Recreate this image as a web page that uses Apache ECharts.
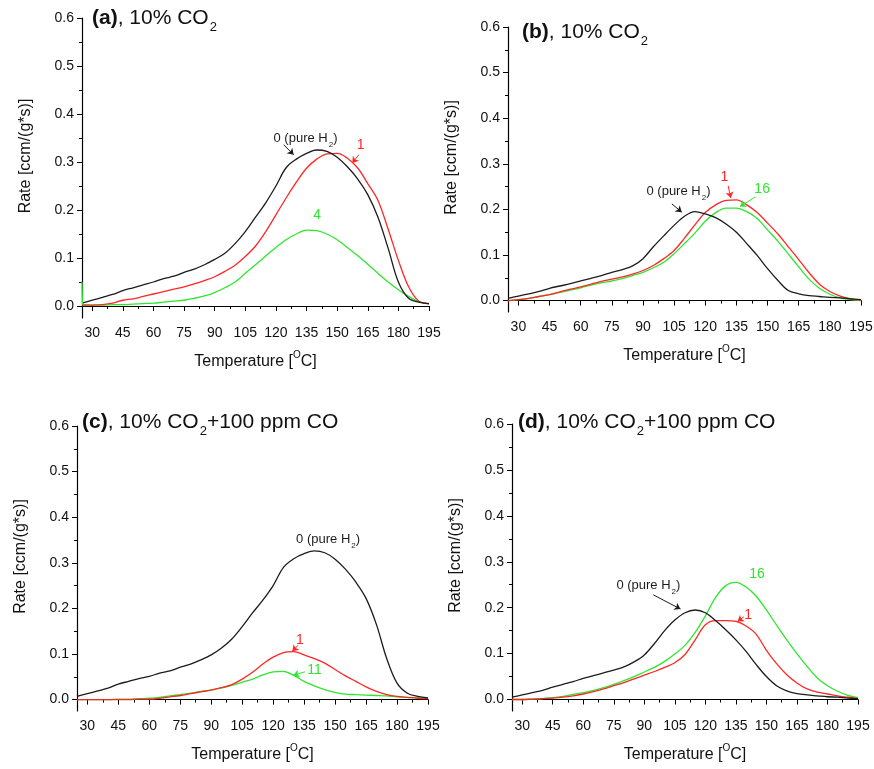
<!DOCTYPE html>
<html lang="en">
<head>
<meta charset="UTF-8">
<title>Rate vs Temperature</title>
<style>
  html, body { margin: 0; padding: 0; background: #fff; }
  #chart { width: 874px; height: 769px; }
</style>
</head>
<body>
<div id="chart"></div>
<script src="https://cdn.jsdelivr.net/npm/echarts@6/dist/echarts.min.js"></script>
<script>
// temperatures (°C) at which the curves were read
var temps = [25, 30, 35, 40, 45, 50, 55, 60, 65, 70, 75, 80, 85, 90, 95, 100, 105, 110, 115,
    120, 125, 130, 135, 140, 145, 150, 155, 160, 165, 170, 175, 180, 185, 190, 195];

// (a) 10% CO2
var aPure = [0.006, 0.012, 0.018, 0.024, 0.032, 0.038, 0.044, 0.050, 0.057, 0.062, 0.070, 0.077, 0.086, 0.097, 0.110, 0.130, 0.155, 0.185, 0.215,
    0.250, 0.288, 0.306, 0.318, 0.325, 0.322, 0.310, 0.290, 0.265, 0.232, 0.185, 0.120, 0.050, 0.016, 0.008, 0.005];
var aOne = [0.002, 0.002, 0.003, 0.006, 0.012, 0.015, 0.020, 0.025, 0.030, 0.035, 0.040, 0.046, 0.053, 0.061, 0.072, 0.085, 0.103, 0.125, 0.155,
    0.190, 0.225, 0.258, 0.287, 0.306, 0.317, 0.318, 0.308, 0.288, 0.255, 0.220, 0.160, 0.095, 0.040, 0.010, 0.005];
var aFour = [0.003, 0.002, 0.002, 0.003, 0.003, 0.004, 0.005, 0.006, 0.008, 0.010, 0.012, 0.016, 0.021, 0.028, 0.038, 0.050, 0.068, 0.086, 0.104,
    0.122, 0.138, 0.150, 0.158, 0.157, 0.150, 0.138, 0.122, 0.105, 0.087, 0.068, 0.050, 0.034, 0.020, 0.009, 0.004];
var aFourSpike = [[25, 0.05], [25.2, 0.003]];

// (b) 10% CO2
var bPure = [0.005, 0.010, 0.015, 0.020, 0.027, 0.032, 0.037, 0.043, 0.049, 0.055, 0.062, 0.068, 0.076, 0.092, 0.118, 0.142, 0.165, 0.185, 0.195,
    0.190, 0.182, 0.168, 0.150, 0.125, 0.099, 0.070, 0.044, 0.022, 0.015, 0.011, 0.009, 0.007, 0.006, 0.004, 0.002];
var bOne = [0.000, 0.002, 0.005, 0.009, 0.013, 0.019, 0.025, 0.030, 0.036, 0.042, 0.047, 0.052, 0.058, 0.066, 0.077, 0.092, 0.110, 0.137, 0.166,
    0.193, 0.210, 0.220, 0.221, 0.210, 0.193, 0.170, 0.146, 0.118, 0.090, 0.061, 0.036, 0.020, 0.010, 0.004, 0.001];
var bSixteen = [0.000, 0.002, 0.005, 0.009, 0.013, 0.018, 0.023, 0.028, 0.034, 0.039, 0.043, 0.048, 0.055, 0.062, 0.072, 0.084, 0.103, 0.125, 0.148,
    0.174, 0.193, 0.203, 0.203, 0.195, 0.180, 0.155, 0.130, 0.102, 0.074, 0.047, 0.027, 0.014, 0.006, 0.002, 0.000];

// (c) 10% CO2 + 100 ppm CO
var cPure = [0.007, 0.013, 0.019, 0.025, 0.034, 0.040, 0.046, 0.051, 0.058, 0.063, 0.071, 0.078, 0.087, 0.098, 0.113, 0.133, 0.160, 0.190, 0.218,
    0.250, 0.290, 0.309, 0.320, 0.326, 0.322, 0.308, 0.286, 0.258, 0.222, 0.165, 0.090, 0.036, 0.014, 0.007, 0.004];
var cOne = [0.000, 0.000, 0.000, 0.000, 0.000, 0.000, 0.001, 0.001, 0.003, 0.006, 0.009, 0.013, 0.017, 0.021, 0.026, 0.033, 0.045, 0.060, 0.078,
    0.093, 0.103, 0.105, 0.098, 0.090, 0.080, 0.066, 0.052, 0.040, 0.028, 0.018, 0.011, 0.007, 0.005, 0.003, 0.002];
var cEleven = [0.000, 0.000, 0.000, 0.000, 0.001, 0.001, 0.002, 0.003, 0.005, 0.008, 0.011, 0.014, 0.018, 0.021, 0.026, 0.031, 0.038, 0.045, 0.054,
    0.061, 0.062, 0.053, 0.040, 0.030, 0.022, 0.016, 0.012, 0.011, 0.010, 0.009, 0.008, 0.006, 0.005, 0.004, 0.003];

// (d) 10% CO2 + 100 ppm CO
var dPure = [0.005, 0.010, 0.015, 0.020, 0.027, 0.033, 0.039, 0.046, 0.052, 0.058, 0.064, 0.071, 0.082, 0.097, 0.122, 0.150, 0.173, 0.189, 0.195,
    0.189, 0.172, 0.152, 0.130, 0.105, 0.076, 0.050, 0.030, 0.019, 0.013, 0.010, 0.008, 0.006, 0.005, 0.003, 0.002];
var dOne = [0.000, 0.000, 0.001, 0.002, 0.003, 0.005, 0.008, 0.012, 0.017, 0.023, 0.030, 0.037, 0.045, 0.053, 0.061, 0.070, 0.080, 0.098, 0.130,
    0.163, 0.172, 0.172, 0.170, 0.160, 0.142, 0.107, 0.078, 0.054, 0.036, 0.023, 0.016, 0.012, 0.008, 0.005, 0.002];
var dSixteen = [0.000, 0.000, 0.001, 0.002, 0.004, 0.007, 0.011, 0.015, 0.020, 0.026, 0.033, 0.041, 0.050, 0.060, 0.070, 0.083, 0.099, 0.118, 0.146,
    0.182, 0.222, 0.248, 0.255, 0.245, 0.225, 0.195, 0.162, 0.130, 0.100, 0.072, 0.047, 0.030, 0.018, 0.009, 0.004];

// axis ticks
var yTicks = [0, 0.1, 0.2, 0.3, 0.4, 0.5, 0.6];
var yMinorTicks = [0.05, 0.15, 0.25, 0.35, 0.45, 0.55];
var xTicks = [30, 45, 60, 75, 90, 105, 120, 135, 150, 165, 180, 195];
var xMinorTicks = [37.5, 52.5, 67.5, 82.5, 97.5, 112.5, 127.5, 142.5, 157.5, 172.5, 187.5];

var BLACK = '#1c1c1c', RED = '#ff2626', GREEN = '#2ee62e', INK = '#111';
var FONT = 'Liberation Sans, Arial, sans-serif';
var PURE = '{n|0 (pure H}{s|2}{n|)}';

var panels = [
    {
        grid: { left: 82, top: 18, width: 347, height: 300 },
        title: '{b|(a)}{n|, 10% CO}{s|2}', titleAt: [92, 8],
        curves: [[aPure, BLACK], [aOne, RED], [aFour, GREEN]],
        notes: [
            { text: PURE, color: BLACK, at: [134.5, 0.347], from: [123.8, 0.336], to: [128.7, 0.315] },
            { text: '1', color: RED, at: [161.5, 0.335], from: [160.6, 0.315], to: [157.4, 0.298] },
            { text: '4', color: GREEN, at: [140.2, 0.19] }
        ]
    },
    {
        grid: { left: 508, top: 27, width: 353, height: 285 },
        title: '{b|(b)}{n|, 10% CO}{s|2}', titleAt: [522, 22],
        curves: [[bPure, BLACK], [bOne, RED], [bSixteen, GREEN]],
        notes: [
            { text: PURE, color: BLACK, at: [107.1, 0.238], from: [103.9, 0.212], to: [108.7, 0.194] },
            { text: '1', color: RED, at: [129.2, 0.271], from: [131, 0.252], to: [132.3, 0.225] },
            { text: '16', color: GREEN, at: [147.4, 0.245], from: [144, 0.227], to: [136.7, 0.206] }
        ]
    },
    {
        grid: { left: 77, top: 426, width: 351, height: 285 },
        title: '{b|(c)}{n|, 10% CO}{s|2}{n|+100 ppm CO}', titleAt: [82, 412],
        curves: [[cPure, BLACK], [cOne, RED], [cEleven, GREEN]],
        notes: [
            { text: PURE, color: BLACK, at: [146.6, 0.35] },
            { text: '1', color: RED, at: [133, 0.13], from: [132, 0.119], to: [129.3, 0.106] },
            { text: '11', color: GREEN, at: [140, 0.064], from: [135.4, 0.061], to: [129.7, 0.053] }
        ]
    },
    {
        grid: { left: 512, top: 424, width: 346, height: 287 },
        title: '{b|(d)}{n|, 10% CO}{s|2}{n|+100 ppm CO}', titleAt: [518, 412],
        curves: [[dPure, BLACK], [dOne, RED], [dSixteen, GREEN]],
        notes: [
            { text: PURE, color: BLACK, at: [92, 0.247], from: [94.4, 0.228], to: [107.8, 0.197] },
            { text: '1', color: RED, at: [141, 0.184], from: [138.9, 0.18], to: [135.8, 0.17] },
            { text: '16', color: GREEN, at: [145.4, 0.273] }
        ]
    }
];

function pts(vals) {
    return temps.map(function (t, i) { return [t, vals[i]]; });
}

var titleRich = {
    b: { fontSize: 21, fontWeight: 'bold', color: INK, verticalAlign: 'top', lineHeight: 24, fontFamily: FONT },
    n: { fontSize: 21, fontWeight: 'normal', color: INK, verticalAlign: 'top', lineHeight: 24, fontFamily: FONT },
    s: { fontSize: 13, fontWeight: 'normal', color: INK, verticalAlign: 'top', lineHeight: 14, padding: [13, 0, 0, 1], fontFamily: FONT }
};
var noteRich = {
    n: { fontSize: 13, verticalAlign: 'top', lineHeight: 15, fontFamily: FONT },
    s: { fontSize: 8, verticalAlign: 'top', lineHeight: 9, padding: [9, 0, 0, 1], fontFamily: FONT }
};

var option = {
    backgroundColor: '#fff',
    animation: false,
    title: [],
    grid: [],
    xAxis: [],
    yAxis: [],
    series: []
};

panels.forEach(function (p, k) {
    var g = Object.assign({ containLabel: false, outerBoundsMode: 'none' }, p.grid);
    option.grid.push(g);
    option.title.push({
        text: p.title, left: p.titleAt[0], top: p.titleAt[1], padding: 0,
        textStyle: { fontWeight: 'normal', rich: titleRich }
    });

    // main x axis + one carrying only minor ticks
    option.xAxis.push({
        type: 'value', gridIndex: k, position: 'bottom', min: 25, max: 195,
        axisLine: { show: true, lineStyle: { color: '#000', width: 1.2 } },
        axisTick: { show: true, inside: false, length: 5, customValues: xTicks, lineStyle: { color: '#000' } },
        axisLabel: { customValues: xTicks, fontSize: 14, color: INK, margin: 8, fontFamily: FONT },
        splitLine: { show: false },
        name: '{n|Temperature [}{p|O}{n|C]}', nameLocation: 'middle', nameGap: 32,
        nameTextStyle: {
            rich: {
                n: { fontSize: 16, color: INK, verticalAlign: 'top', lineHeight: 18, padding: [4, 0, 0, 0], fontFamily: FONT },
                p: { fontSize: 10, color: INK, verticalAlign: 'top', lineHeight: 11, fontFamily: FONT }
            }
        }
    });
    option.xAxis.push({
        type: 'value', gridIndex: k, position: 'bottom', min: 25, max: 195,
        axisLine: { show: false },
        axisTick: { show: true, length: 3, customValues: xMinorTicks, lineStyle: { color: '#000' } },
        axisLabel: { show: false, customValues: xMinorTicks },
        splitLine: { show: false }
    });

    option.yAxis.push({
        type: 'value', gridIndex: k, position: 'left', min: -0.025, max: 0.6,
        axisLine: { show: true, lineStyle: { color: '#000', width: 1.2 } },
        axisTick: { show: true, inside: false, length: 5, customValues: yTicks, lineStyle: { color: '#000' } },
        axisLabel: {
            customValues: yTicks, fontSize: 14, color: INK, margin: 8, fontFamily: FONT,
            formatter: function (v) { return v.toFixed(1); }
        },
        splitLine: { show: false },
        name: 'Rate [ccm/(g*s)]', nameLocation: 'middle', nameGap: 48,
        nameTextStyle: { fontSize: 16, color: INK, fontFamily: FONT, padding: [0, 0, 0, 24] }
    });
    option.yAxis.push({
        type: 'value', gridIndex: k, position: 'left', min: -0.025, max: 0.6,
        axisLine: { show: false },
        axisTick: { show: true, length: 3, customValues: yMinorTicks, lineStyle: { color: '#000' } },
        axisLabel: { show: false, customValues: yMinorTicks },
        splitLine: { show: false }
    });

    p.curves.forEach(function (c, j) {
        var s = {
            type: 'line', xAxisIndex: 2 * k, yAxisIndex: 2 * k,
            data: pts(c[0]), showSymbol: false, smooth: 0.35,
            lineStyle: { color: c[1], width: 1.3 }, itemStyle: { color: c[1] },
            z: 3 - j
        };
        if (j === 0) {
            s.markPoint = {
                symbol: 'circle', symbolSize: 0, silent: true,
                data: p.notes.map(function (n) {
                    return {
                        coord: n.at,
                        label: {
                            show: true, position: 'inside', formatter: n.text, color: n.color,
                            fontSize: 14, fontFamily: FONT,
                            rich: {
                                n: Object.assign({ color: n.color }, noteRich.n),
                                s: Object.assign({ color: n.color }, noteRich.s)
                            }
                        }
                    };
                })
            };
            s.markLine = {
                silent: true, symbol: ['none', 'arrow'], symbolSize: 6,
                label: { show: false },
                data: p.notes.filter(function (n) { return n.from; }).map(function (n) {
                    return [
                        { coord: n.from, lineStyle: { color: n.color, width: 1, type: 'solid' }, itemStyle: { color: n.color } },
                        { coord: n.to }
                    ];
                })
            };
        }
        option.series.push(s);
    });
});

// the stray green spike at the left edge of panel (a)
option.series.push({
    type: 'line', xAxisIndex: 0, yAxisIndex: 0, data: aFourSpike, showSymbol: false,
    lineStyle: { color: GREEN, width: 1.3 }
});

var chart = echarts.init(document.getElementById('chart'));
chart.setOption(option);
</script>
</body>
</html>
